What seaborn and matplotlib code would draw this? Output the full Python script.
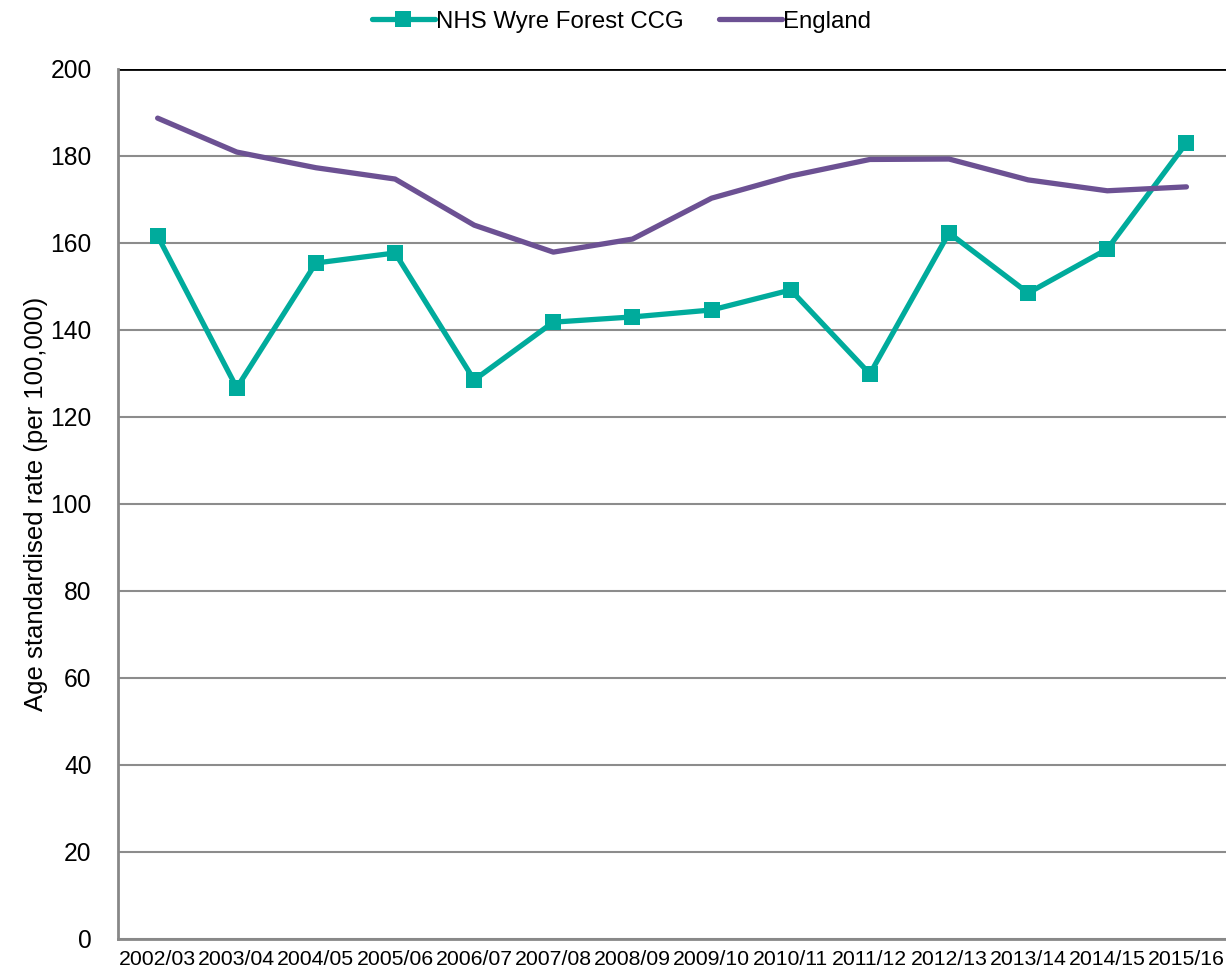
import matplotlib
matplotlib.use("Agg")
import matplotlib.pyplot as plt
import seaborn as sns
import pandas as pd

years = ["2002/03", "2003/04", "2004/05", "2005/06", "2006/07", "2007/08", "2008/09",
         "2009/10", "2010/11", "2011/12", "2012/13", "2013/14", "2014/15", "2015/16"]
wyre_forest = [161.6, 126.7, 155.4, 157.7, 128.5, 141.8, 143.0,
               144.6, 149.2, 129.9, 162.3, 148.5, 158.6, 183.0]
england = [188.7, 180.9, 177.3, 174.7, 164.1, 157.9, 160.9,
           170.3, 175.4, 179.2, 179.3, 174.5, 172.0, 172.9]

TEAL = "#00AB9C"
PURPLE = "#6C5193"

sns.set_theme(style="white")
plt.rcParams["font.family"] = ["Liberation Sans", "DejaVu Sans"]
plt.rcParams["text.color"] = "black"
plt.rcParams["axes.labelcolor"] = "black"
plt.rcParams["xtick.color"] = "black"
plt.rcParams["ytick.color"] = "black"

df = pd.DataFrame({"year": years, "NHS Wyre Forest CCG": wyre_forest, "England": england})
long = df.melt(id_vars="year", var_name="area", value_name="rate")
long["x"] = long["year"].map({y: i for i, y in enumerate(years)})

fig = plt.figure(figsize=(12.26, 9.77), dpi=100)
ax = fig.add_axes([0.0963, 0.0389, 0.9037, 0.8905])

sns.lineplot(data=long[long["area"] == "NHS Wyre Forest CCG"], x="x", y="rate",
             color=TEAL, linewidth=3.8, marker="s", markersize=11, markeredgewidth=0,
             ax=ax, label="NHS Wyre Forest CCG", legend=False)
sns.lineplot(data=long[long["area"] == "England"], x="x", y="rate",
             color=PURPLE, linewidth=3.8, ax=ax, label="England", legend=False)

ax.set_xlim(-0.5, len(years) - 0.5)
ax.set_ylim(0, 200)
ax.set_yticks(range(0, 201, 20))
ax.set_xticks([i - 0.5 for i in range(len(years) + 1)], minor=False)
ax.set_xticklabels([])
ax.set_xticks(range(len(years)), minor=True)
ax.set_xticklabels(years, minor=True, fontsize=15.3)
ax.tick_params(axis="x", which="minor", length=0, pad=8)
ax.tick_params(axis="x", which="major", length=6, width=1.5, color="#888888", direction="out")
ax.tick_params(axis="y", length=7, width=1.5, color="#888888", direction="out",
               labelsize=17.7, pad=12)
ax.grid(axis="y", color="#8c8c8c", linewidth=1.5)
ax.grid(axis="x", visible=False)
ax.set_axisbelow(True)
ax.axhline(200, color="black", linewidth=2, zorder=1)

for side in ["top", "right"]:
    ax.spines[side].set_visible(False)
for side in ["left", "bottom"]:
    ax.spines[side].set_color("#888888")
    ax.spines[side].set_linewidth(2)

ax.set_xlabel("")
ax.set_ylabel("Age standardised rate (per 100,000)", fontsize=18.5, labelpad=2)

handles, labels = ax.get_legend_handles_labels()
fig.legend(handles, labels, loc="upper center", bbox_to_anchor=(0.507, 1.011), ncol=2,
           frameon=False, fontsize=17.3, handlelength=2.6, columnspacing=1.5, handletextpad=0.05)

fig.savefig("out.png", dpi=100)
